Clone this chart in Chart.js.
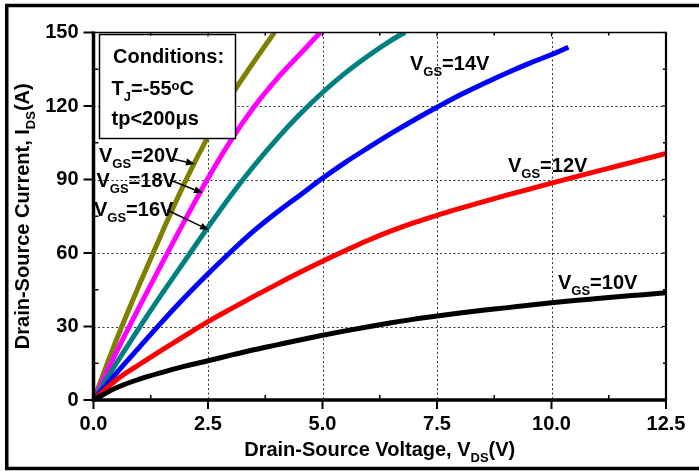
<!DOCTYPE html>
<html>
<head>
<meta charset="utf-8">
<script src="https://cdn.jsdelivr.net/npm/chart.js@4.4.0/dist/chart.umd.min.js"></script>
<style>
  html, body { margin: 0; padding: 0; background: #fff; }
  #wrap { width: 699px; height: 471px; }
</style>
</head>
<body>
<div id="wrap"><canvas id="chart" width="699" height="471"></canvas></div>
<script>
// Output characteristics, Tj = -55C
const xTicks = [0, 2.5, 5, 7.5, 10, 12.5];
const yTicks = [0, 30, 60, 90, 120, 150];

const vdsFull = [0, 0.5, 1, 1.5, 2, 2.5, 3, 3.5, 4, 4.5, 5, 5.5, 6, 6.5, 7, 7.5, 8, 8.5, 9, 9.5, 10, 10.5, 11, 11.5, 12, 12.5];
const ids10 = [0, 5, 8.5, 11.3, 13.8, 16, 18.3, 20.5, 22.5, 24.5, 26.4, 28.2, 29.9, 31.5, 33, 34.3, 35.5, 36.6, 37.6, 38.7, 39.7, 40.6, 41.4, 42.2, 43, 43.8];
const ids12 = [0, 8.2, 14.5, 20.5, 26.3, 32, 37.2, 42.3, 47.2, 52, 56.6, 61, 65.2, 69, 72.4, 75.4, 78.2, 80.9, 83.5, 86, 88.5, 91, 93.4, 95.8, 98.2, 100.6];

const vds14 = [0, 0.5, 1, 1.5, 2, 2.5, 3, 3.5, 4, 4.5, 5, 5.5, 6, 6.5, 7, 7.5, 8, 8.5, 9, 9.5, 10, 10.37];
const ids14 = [0, 11, 21.5, 32, 42, 51.5, 60.5, 69, 76.5, 83.5, 90.5, 97, 103, 108.8, 114.3, 119.5, 124.5, 129, 133.3, 137.3, 141, 144];

const vds16 = [0, 0.5, 1, 1.5, 2, 2.5, 3, 3.5, 4, 4.5, 5, 5.5, 6, 6.5, 6.8];
const ids16 = [0, 15, 29.5, 43.5, 57, 70.5, 83.5, 95.5, 106.5, 116.5, 125.5, 133.5, 140.5, 146.8, 150];

const vds18 = [0, 0.5, 1, 1.5, 2, 2.5, 3, 3.5, 4, 4.5, 4.95];
const ids18 = [0, 19.5, 38, 56, 73.5, 90.5, 106, 119.5, 131, 141, 150];

const vds20 = [0, 0.5, 1, 1.5, 2, 2.5, 3, 3.5, 3.95];
const ids20 = [0, 24.5, 47, 68.5, 89, 107.5, 124, 138, 150];

const FONT = '"Liberation Sans", Arial, sans-serif';
const BIG = 'bold 20px ' + FONT;
const SMALL = 'bold 13px ' + FONT;

function pts(xs, ys) {
  return xs.map((v, i) => ({ x: v, y: ys[i] }));
}

function series(xs, ys, color) {
  return {
    data: pts(xs, ys),
    borderColor: color,
    borderWidth: 5,
    pointRadius: 0,
    fill: false,
    cubicInterpolationMode: 'monotone'
  };
}

// text with sub/superscripts, e.g. V_GS=14V
function richWidth(ctx, parts) {
  let w = 0;
  parts.forEach(p => {
    ctx.font = (p.sub || p.sup) ? SMALL : BIG;
    w += ctx.measureText(p.t).width;
  });
  return w;
}

function drawRich(ctx, x, y, parts) {
  let cx = x;
  ctx.textAlign = 'left';
  ctx.textBaseline = 'alphabetic';
  parts.forEach(p => {
    ctx.font = (p.sub || p.sup) ? SMALL : BIG;
    const dy = p.sub ? 6 : (p.sup ? -5 : 0);
    ctx.fillText(p.t, cx, y + dy);
    cx += ctx.measureText(p.t).width;
  });
}

function vgs(val) {
  return [{ t: 'V' }, { t: 'GS', sub: true }, { t: '=' + val + 'V' }];
}

function arrow(ctx, x1, y1, x2, y2) {
  const ang = Math.atan2(y2 - y1, x2 - x1);
  const len = 9, hw = 3.5;
  const bx = x2 - len * Math.cos(ang), by = y2 - len * Math.sin(ang);
  ctx.lineWidth = 1.5;
  ctx.beginPath();
  ctx.moveTo(x1, y1);
  ctx.lineTo(bx, by);
  ctx.stroke();
  ctx.beginPath();
  ctx.moveTo(x2, y2);
  ctx.lineTo(bx + hw * Math.sin(ang), by - hw * Math.cos(ang));
  ctx.lineTo(bx - hw * Math.sin(ang), by + hw * Math.cos(ang));
  ctx.closePath();
  ctx.fill();
}

function seg(ctx, x1, y1, x2, y2) {
  ctx.beginPath();
  ctx.moveTo(x1, y1);
  ctx.lineTo(x2, y2);
  ctx.stroke();
}

const decor = {
  id: 'decor',
  beforeDatasetsDraw(chart) {
    const { ctx, chartArea: a, scales: { x, y } } = chart;
    ctx.save();
    ctx.strokeStyle = '#333';
    ctx.lineWidth = 1;
    ctx.setLineDash([2, 2.5]);
    xTicks.slice(1, -1).forEach(v => {
      const px = Math.round(x.getPixelForValue(v)) + 0.5;
      seg(ctx, px, a.top, px, a.bottom);
    });
    yTicks.slice(1, -1).forEach(v => {
      const py = Math.round(y.getPixelForValue(v)) + 0.5;
      seg(ctx, a.left, py, a.right, py);
    });
    ctx.restore();
  },
  afterDatasetsDraw(chart) {
    const { ctx, chartArea: a, scales: { x, y } } = chart;
    ctx.save();
    ctx.fillStyle = '#000';
    ctx.strokeStyle = '#000';

    // conditions box
    ctx.fillStyle = '#fff';
    ctx.fillRect(99.5, 34.5, 136, 104);
    ctx.lineWidth = 1.5;
    ctx.strokeRect(99.5, 34.5, 136, 104);
    ctx.fillStyle = '#000';
    drawRich(ctx, 113, 63, [{ t: 'Conditions:' }]);
    drawRich(ctx, 111.5, 95, [{ t: 'T' }, { t: 'J', sub: true }, { t: '=-55' }, { t: 'o', sup: true }, { t: 'C' }]);
    drawRich(ctx, 111.5, 125, [{ t: 'tp<200\u03bcs' }]);

    // curve labels
    drawRich(ctx, 410, 70, vgs(14));
    drawRich(ctx, 508, 171.5, vgs(12));
    drawRich(ctx, 558, 289, vgs(10));
    drawRich(ctx, 99, 161.5, vgs(20));
    drawRich(ctx, 96.5, 186.5, vgs(18));
    drawRich(ctx, 94, 216, vgs(16));
    arrow(ctx, 173, 159, 195, 164);
    arrow(ctx, 170, 180, 203, 193);
    arrow(ctx, 167, 210, 209, 230);

    // axes frame
    ctx.lineCap = 'butt';
    ctx.lineWidth = 1.7;
    seg(ctx, a.left, a.top, a.right + 1, a.top);
    ctx.lineWidth = 2.2;
    seg(ctx, a.right, a.top, a.right, a.bottom);
    ctx.lineWidth = 3.5;
    seg(ctx, a.left, a.top - 1, a.left, a.bottom + 1.75);
    seg(ctx, a.left - 1.75, a.bottom, a.right + 1, a.bottom);

    // tick marks
    const xMinor = xTicks.slice(1).map((v, i) => (v + xTicks[i]) / 2);
    const yMinor = yTicks.slice(1).map((v, i) => (v + yTicks[i]) / 2);
    ctx.lineWidth = 2;
    xTicks.forEach(v => {
      const px = x.getPixelForValue(v);
      seg(ctx, px, a.bottom, px, a.bottom + 9);
      ctx.lineWidth = 1.2;
      seg(ctx, px, a.top, px, a.top + 4);
      ctx.lineWidth = 2;
    });
    yTicks.forEach(v => {
      const py = y.getPixelForValue(v);
      seg(ctx, a.left - 10, py, a.left, py);
      ctx.lineWidth = 1.2;
      seg(ctx, a.right - 4, py, a.right, py);
      ctx.lineWidth = 2;
    });
    ctx.lineWidth = 1.5;
    xMinor.forEach(v => {
      const px = x.getPixelForValue(v);
      seg(ctx, px, a.bottom - 5, px, a.bottom);
      seg(ctx, px, a.top, px, a.top + 3);
    });
    yMinor.forEach(v => {
      const py = y.getPixelForValue(v);
      seg(ctx, a.left, py, a.left + 5, py);
      seg(ctx, a.right - 3, py, a.right, py);
    });

    // axis titles
    const xt = [{ t: 'Drain-Source Voltage, V' }, { t: 'DS', sub: true }, { t: '(V)' }];
    const xw = richWidth(ctx, xt);
    drawRich(ctx, (a.left + a.right) / 2 - xw / 2, 456, xt);

    const yt = [{ t: 'Drain-Source Current, I' }, { t: 'DS', sub: true }, { t: '(A)' }];
    const yw = richWidth(ctx, yt);
    ctx.save();
    ctx.translate(29, (a.top + a.bottom) / 2);
    ctx.rotate(-Math.PI / 2);
    drawRich(ctx, -yw / 2, 0, yt);
    ctx.restore();

    // outer border (right side falls outside the picture)
    ctx.lineWidth = 3.5;
    ctx.strokeRect(6.75, 5.5, 720, 463);
    ctx.restore();
  }
};

new Chart(document.getElementById('chart'), {
  type: 'line',
  data: {
    datasets: [
      series(vdsFull, ids10, '#000000'),
      series(vdsFull, ids12, '#ff0000'),
      series(vds14, ids14, '#0000ff'),
      series(vds16, ids16, '#008080'),
      series(vds18, ids18, '#ff00ff'),
      series(vds20, ids20, '#808000')
    ]
  },
  options: {
    responsive: false,
    animation: false,
    devicePixelRatio: 1,
    layout: { padding: { left: 0, right: 33, top: 32.5, bottom: 0 } },
    plugins: {
      legend: { display: false },
      tooltip: { enabled: false }
    },
    scales: {
      x: {
        type: 'linear',
        min: 0,
        max: 12.5,
        afterBuildTicks: s => { s.ticks = xTicks.map(v => ({ value: v })); },
        afterFit: s => { s.height = 71; },
        grid: { display: false, drawTicks: false },
        border: { display: false },
        ticks: {
          padding: 12,
          color: '#000',
          font: { family: FONT, size: 20, weight: 'bold' },
          maxRotation: 0,
          callback: v => v.toFixed(1)
        }
      },
      y: {
        type: 'linear',
        min: 0,
        max: 150,
        afterBuildTicks: s => { s.ticks = yTicks.map(v => ({ value: v })); },
        afterFit: s => { s.width = 93.5; },
        grid: { display: false, drawTicks: false },
        border: { display: false },
        ticks: {
          padding: 15,
          color: '#000',
          font: { family: FONT, size: 20, weight: 'bold' },
          callback: v => String(v)
        }
      }
    }
  },
  plugins: [decor]
});
</script>
</body>
</html>
